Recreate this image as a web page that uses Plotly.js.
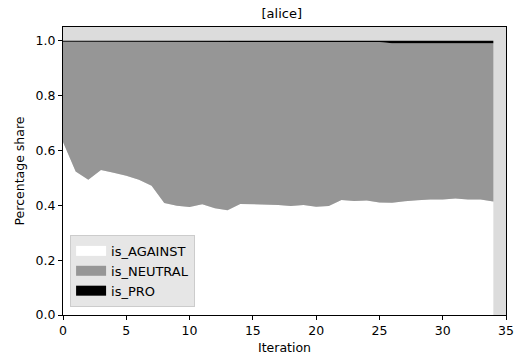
<!DOCTYPE html>
<html>
<head>
<meta charset="utf-8">
<script src="https://cdn.plot.ly/plotly-3.0.1.min.js"></script>
<style>html,body{margin:0;padding:0;background:#fff;}#chart{width:517px;height:363px;}</style>
</head>
<body>
<div id="chart"></div>
<script>
var iterations = [0,1,2,3,4,5,6,7,8,9,10,11,12,13,14,15,16,17,18,19,20,21,22,23,24,25,26,27,28,29,30,31,32,33,34];
var isAgainst = [0.631,0.523,0.493,0.529,0.519,0.508,0.493,0.471,0.408,0.398,0.394,0.404,0.389,0.382,0.405,0.404,0.403,0.401,0.397,0.401,0.395,0.397,0.419,0.416,0.417,0.410,0.409,0.415,0.418,0.421,0.421,0.425,0.421,0.421,0.414];
var isPro = [0.004,0.004,0.004,0.004,0.004,0.004,0.004,0.004,0.004,0.004,0.004,0.004,0.004,0.004,0.004,0.004,0.004,0.004,0.004,0.004,0.004,0.004,0.004,0.004,0.004,0.005,0.009,0.009,0.009,0.009,0.009,0.009,0.009,0.009,0.009];
var isNeutral = isAgainst.map(function(a, i){ return 1 - a - isPro[i]; });
var seriesNames = ['is_AGAINST','is_NEUTRAL','is_PRO'];
var seriesColors = ['#ffffff','#969696','#000000'];
var seriesValues = [isAgainst, isNeutral, isPro];

var traces = seriesValues.map(function(vals, k){
  return {
    x: iterations, y: vals, name: seriesNames[k],
    type: 'scatter', mode: 'lines', stackgroup: 'one',
    line: {width: 0, color: seriesColors[k]},
    fillcolor: seriesColors[k], showlegend: false
  };
});
// legend swatches (no data drawn)
seriesNames.forEach(function(nm, k){
  traces.push({
    x: [null], y: [null], name: nm, type: 'scatter', mode: 'lines',
    line: {width: 10, color: seriesColors[k]}, showlegend: true
  });
});

var tf = {family: 'DejaVu Sans', size: 12.5, color: '#000'};
var lf = {family: 'DejaVu Sans', size: 13, color: '#000'};
var axisCommon = {
  showgrid: false, zeroline: false, showline: true, mirror: true,
  linecolor: '#000', linewidth: 1, ticks: 'outside', ticklen: 4, tickcolor: '#000',
  tickfont: tf
};

var layout = {
  width: 517, height: 363,
  margin: {l: 63, r: 11, t: 27, b: 48},
  paper_bgcolor: '#ffffff', plot_bgcolor: '#dcdcdc',
  font: tf,
  title: {text: '[alice]', x: 0.545, xanchor: 'center', y: 0.962, yanchor: 'middle', font: {family: 'DejaVu Sans', size: 13, color: '#000'}},
  xaxis: Object.assign({}, axisCommon, {range: [0, 35], tickvals: [0,5,10,15,20,25,30,35], title: {text: 'Iteration', font: tf, standoff: 6}}),
  yaxis: Object.assign({}, axisCommon, {range: [0, 1.05], tickvals: [0,0.2,0.4,0.6,0.8,1.0], tickformat: '.1f', title: {text: 'Percentage share', font: tf, standoff: 8}}),
  showlegend: true,
  legend: {x: 0.016, y: 0.028, xanchor: 'left', yanchor: 'bottom', bgcolor: '#e6e6e6', bordercolor: '#cccccc', borderwidth: 1, font: lf, itemwidth: 30, traceorder: 'normal'}
};

Plotly.newPlot('chart', traces, layout, {displayModeBar: false, staticPlot: true});
</script>
</body>
</html>
